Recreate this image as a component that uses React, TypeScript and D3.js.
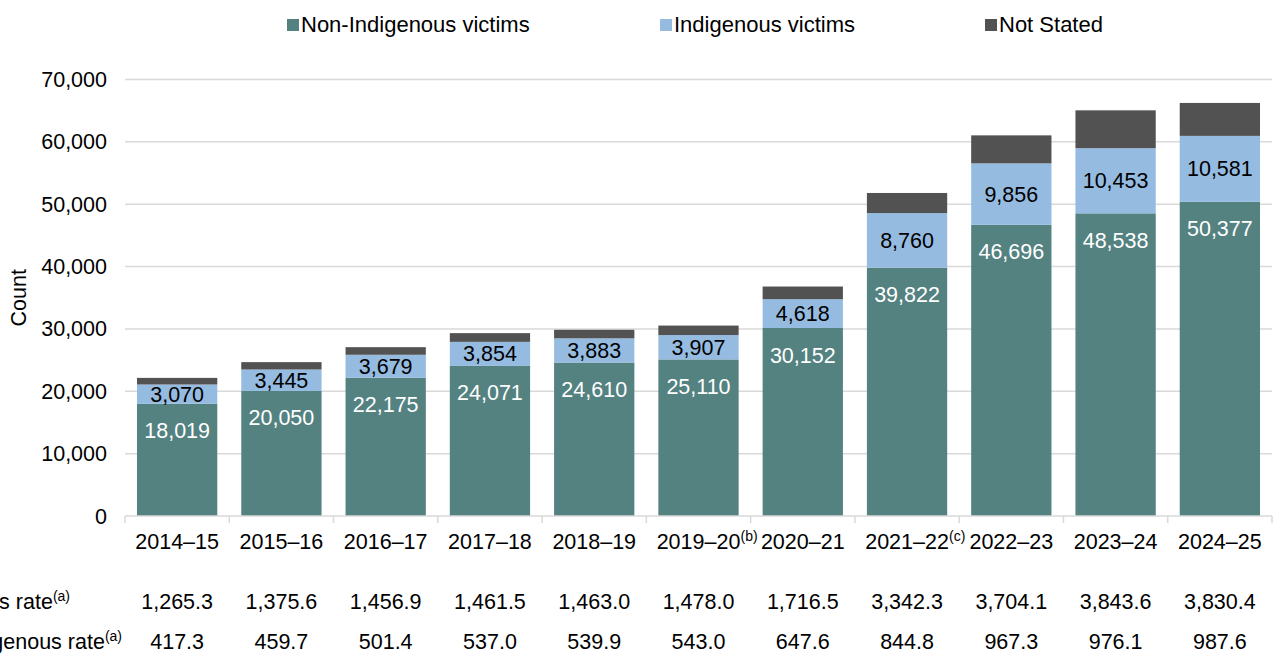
import React from "react";
import * as d3 from "d3";

const categories = ["2014–15","2015–16","2016–17","2017–18","2018–19","2019–20","2020–21","2021–22","2022–23","2023–24","2024–25"];
const categoryNotes = ["","","","","","(b)","","(c)","","",""];
const nonIndigenous = [18019,20050,22175,24071,24610,25110,30152,39822,46696,48538,50377];
const indigenous = [3070,3445,3679,3854,3883,3907,4618,8760,9856,10453,10581];
const notStated = [1060,1180,1220,1400,1370,1520,2030,3220,4490,6065,5280];
const indigenousRate = ["1,265.3","1,375.6","1,456.9","1,461.5","1,463.0","1,478.0","1,716.5","3,342.3","3,704.1","3,843.6","3,830.4"];
const nonIndigenousRate = ["417.3","459.7","501.4","537.0","539.9","543.0","647.6","844.8","967.3","976.1","987.6"];
const yTicks = [0,10000,20000,30000,40000,50000,60000,70000];
const seriesNames = ["Non-Indigenous victims","Indigenous victims","Not Stated"];
const colors = ["#548281","#95bbe1","#525252"];

const FONT = "'Liberation Sans', Arial, sans-serif";

export default function App() {
  const W = 1278, H = 655;
  const left = 125, right = 1272, top = 79.5, bottom = 516;
  const x = d3.scaleBand<string>().domain(categories).range([left, right]).paddingInner(0.23).paddingOuter(0.115);
  const y = d3.scaleLinear().domain([0, 70000]).range([bottom, top]);
  const band = (right - left) / categories.length;

  const rows = categories.map((c, i) => ({ cat: c, vals: [nonIndigenous[i], indigenous[i], notStated[i]] }));
  const stack = d3.stack<any>().keys(["0","1","2"]).value((d: any, k: string) => d.vals[+k]);
  const stacked = stack(rows);
  const fmt = d3.format(",");
  const legendX = [287, 660, 985];

  return (
    <svg width={W} height={H} style={{ position: "absolute", left: 0, top: 0, fontFamily: FONT }}>
      <rect x={0} y={0} width={W} height={H} fill="#ffffff" />
      {yTicks.map(t => (
        <g key={t}>
          {t > 0 && <line x1={left} x2={right} y1={y(t)} y2={y(t)} stroke="#d9d9d9" strokeWidth={1.5} />}
          <text x={107} y={y(t)} dy="0.35em" textAnchor="end" fontSize={21.5} fill="#000">{fmt(t)}</text>
        </g>
      ))}
      {stacked.map((s, si) => (
        <g key={si}>
          {s.map((d, i) => (
            <rect key={i} x={x(categories[i])!} width={x.bandwidth()} y={y(d[1])} height={y(d[0]) - y(d[1])} fill={colors[si]} />
          ))}
        </g>
      ))}
      <line x1={left} x2={right} y1={bottom} y2={bottom} stroke="#d9d9d9" strokeWidth={1.5} />
      {d3.range(categories.length + 1).map(i => (
        <line key={i} x1={left + i * band} x2={left + i * band} y1={bottom} y2={bottom + 7} stroke="#d9d9d9" strokeWidth={1.5} />
      ))}
      {stacked[0].map((d, i) => (
        <text key={"n" + i} x={x(categories[i])! + x.bandwidth() / 2} y={y(d[1]) + 27} dy="0.35em" textAnchor="middle" fontSize={21.5} fill="#ffffff">{fmt(nonIndigenous[i])}</text>
      ))}
      {stacked[1].map((d, i) => (
        <text key={"i" + i} x={x(categories[i])! + x.bandwidth() / 2} y={(y(d[0]) + y(d[1])) / 2} dy="0.35em" textAnchor="middle" fontSize={21.5} fill="#000">{fmt(indigenous[i])}</text>
      ))}
      {categories.map((c, i) => {
        const cx = x(c)! + x.bandwidth() / 2;
        return (
          <g key={c}>
            <text x={cx} y={549} textAnchor="middle" fontSize={21.5} fill="#000">{c}</text>
            {categoryNotes[i] && <text x={cx + 42} y={541} fontSize={14} fill="#000">{categoryNotes[i]}</text>}
            <text x={cx} y={609} textAnchor="middle" fontSize={21.5} fill="#000">{indigenousRate[i]}</text>
            <text x={cx} y={649} textAnchor="middle" fontSize={21.5} fill="#000">{nonIndigenousRate[i]}</text>
          </g>
        );
      })}
      <text x={70} y={609} textAnchor="end" fontSize={21.5} fill="#000">Indigenous rate<tspan fontSize={14} dy={-8}>(a)</tspan></text>
      <text x={122} y={649} textAnchor="end" fontSize={21.5} fill="#000">Non-Indigenous rate<tspan fontSize={14} dy={-8}>(a)</tspan></text>
      <text transform={`translate(26,${(top + bottom) / 2}) rotate(-90)`} textAnchor="middle" fontSize={21.5} fill="#000">Count</text>
      {seriesNames.map((n, i) => (
        <g key={n}>
          <rect x={legendX[i]} y={19} width={12} height={12} fill={colors[i]} />
          <text x={legendX[i] + 14} y={32} fontSize={22} fill="#000">{n}</text>
        </g>
      ))}
    </svg>
  );
}
